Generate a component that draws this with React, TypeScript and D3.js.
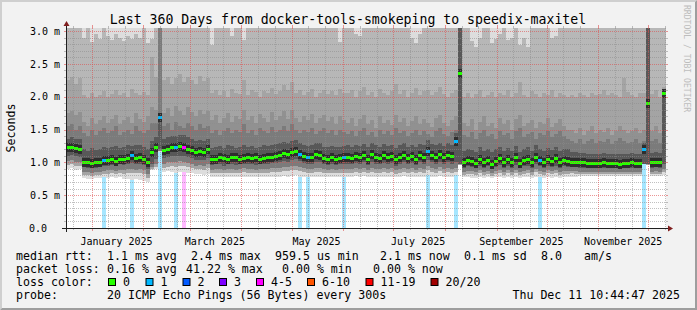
import React from "react";
import * as d3 from "d3";

const W = 697, H = 310;
const X0 = 66, X1 = 666, Y0 = 228, Y1 = 28;
const DAY = 86400000;
const START = Date.UTC(2024, 11, 16, 16, 48);
const SPAN_DAYS = 360;
const BIN_DAYS = 2.4;
const Y_TOP = (3.0 * 200) / 197;
const FONT = "'DejaVu Sans Mono', monospace";

const TITLE = "Last 360 Days from docker-tools-smokeping to speedix-maxitel";

// median RTT per bin (ms)
const median = [
  1.22, 1.23, 1.21, 1.20, 1.00, 0.99, 0.98, 0.99, 1.00, 1.03,
  1.03, 1.04, 1.02, 1.05, 1.04, 1.06, 1.10, 1.06, 1.07, 1.05,
  1.00, 1.15, 1.22, 1.69, 1.18, 1.20, 1.22, 1.22, 1.24, 1.23,
  1.20, 1.18, 1.15, 1.16, 1.15, 1.19, 1.04, 1.05, 1.07, 1.06,
  1.04, 1.08, 1.07, 1.05, 1.06, 1.08, 1.06, 1.07, 1.05, 1.06,
  1.08, 1.07, 1.09, 1.11, 1.13, 1.12, 1.15, 1.17, 1.12, 1.09,
  1.07, 1.08, 1.12, 1.11, 1.06, 1.05, 1.07, 1.05, 1.06, 1.07,
  1.08, 1.06, 1.09, 1.07, 1.10, 1.05, 1.12, 1.08, 1.06, 1.10,
  1.07, 1.09, 1.04, 1.08, 1.11, 1.06, 1.09, 1.05, 1.10, 1.08,
  1.17, 1.10, 1.08, 1.12, 1.07, 1.11, 1.09, 1.32, 2.36, 0.99,
  1.03, 1.01, 0.98, 1.05, 1.00, 1.03, 0.97, 1.02, 1.06, 0.99,
  1.04, 1.00, 1.07, 0.98, 1.03, 1.05, 1.00, 1.08, 1.03, 0.99,
  1.04, 1.01, 1.06, 1.00, 1.03, 1.02, 1.00, 1.00, 0.99, 0.99,
  0.98, 0.98, 0.98, 0.98, 0.99, 0.98, 0.98, 0.98, 0.97, 0.98,
  0.98, 0.99, 0.98, 0.98, 1.20, 1.90, 0.99, 1.00, 0.99, 2.05,
];

// upper smoke boundaries (ms)
const p18 = [
  3.2, 3.2, 3.2, 3.2, 2.9, 3.2, 2.84, 2.95, 2.88, 3.2,
  2.92, 2.87, 2.95, 2.9, 2.85, 2.93, 2.88, 2.96, 2.9, 3.2,
  2.82, 2.88, 3.2, 3.2, 3.2, 3.2, 3.2, 3.2, 3.2, 3.2,
  3.2, 3.2, 3.2, 3.2, 3.2, 3.2, 2.79, 3.2, 3.2, 3.2,
  3.2, 2.92, 3.2, 3.2, 2.86, 3.2, 3.2, 3.2, 3.2, 3.2,
  3.2, 3.2, 3.2, 3.2, 3.2, 3.2, 3.2, 3.2, 3.2, 3.2,
  3.2, 3.2, 3.2, 3.2, 3.2, 3.2, 3.2, 3.2, 2.84, 3.2,
  3.2, 3.2, 2.95, 2.92, 3.2, 3.2, 3.2, 3.2, 3.2, 3.2,
  3.2, 3.2, 3.2, 3.2, 3.2, 3.2, 2.9, 2.82, 2.95, 3.2,
  3.2, 3.2, 3.2, 3.2, 3.2, 3.2, 3.2, 3.2, 3.2, 3.2,
  3.2, 2.85, 2.76, 2.9, 3.2, 3.2, 2.82, 2.88, 2.95, 3.2,
  2.86, 2.9, 3.2, 2.78, 2.9, 2.76, 3.2, 3.2, 3.2, 3.2,
  3.2, 2.9, 2.93, 3.2, 3.2, 3.2, 3.2, 3.2, 3.2, 3.2,
  3.2, 3.2, 3.2, 3.2, 3.2, 3.2, 3.2, 3.2, 3.2, 3.2,
  3.2, 3.2, 3.2, 3.2, 3.2, 3.2, 3.2, 3.2, 3.2, 3.2,
];
const p17 = [
  2.25, 2.30, 2.20, 2.28, 2.02, 1.98, 2.05, 2.00, 2.03, 2.08,
  2.00, 2.04, 2.10, 2.02, 2.06, 2.00, 2.12, 2.05, 2.03, 2.07,
  2.02, 2.60, 2.30, 3.20, 2.25, 2.30, 2.20, 2.28, 2.35, 2.22,
  2.30, 2.26, 2.20, 2.32, 2.24, 2.28, 2.05, 2.10, 2.02, 2.08,
  2.00, 2.12, 2.06, 2.04, 2.25, 2.03, 2.10, 2.07, 2.00, 2.09,
  2.05, 2.13, 2.04, 2.08, 2.18, 2.10, 2.22, 2.05, 2.10, 2.02,
  2.07, 2.12, 2.00, 2.06, 2.10, 2.04, 2.08, 2.02, 2.11, 2.06,
  2.05, 2.10, 2.00, 2.08, 2.14, 2.03, 2.07, 2.00, 2.12, 2.05,
  2.02, 2.09, 2.20, 2.04, 2.10, 2.00, 2.06, 2.13, 2.03, 2.08,
  2.10, 2.02, 2.07, 2.15, 2.04, 2.00, 2.06, 2.10, 3.20, 2.00,
  2.05, 1.98, 2.04, 2.10, 2.00, 2.03, 2.07, 1.99, 2.05, 2.02,
  2.10, 2.00, 2.06, 2.22, 2.03, 2.00, 2.08, 2.04, 1.99, 2.06,
  2.02, 2.10, 2.00, 2.05, 2.03, 2.00, 2.02, 2.00, 2.05, 2.03,
  2.00, 2.06, 2.02, 2.04, 2.10, 2.03, 2.05, 2.02, 2.00, 2.28,
  2.07, 2.02, 2.00, 2.05, 2.05, 3.20, 2.04, 2.10, 2.00, 2.15,
];
const p16 = [
  1.75, 1.78, 1.72, 1.76, 1.62, 1.55, 1.68, 1.58, 1.65, 1.70,
  1.60, 1.66, 1.72, 1.58, 1.64, 1.69, 1.60, 1.75, 1.66, 1.62,
  1.70, 1.85, 1.80, 3.20, 1.75, 1.82, 1.70, 1.86, 1.78, 1.72,
  1.84, 1.76, 1.70, 1.80, 1.74, 1.78, 1.65, 1.72, 1.60, 1.68,
  1.75, 1.62, 1.70, 1.66, 1.80, 1.64, 1.70, 1.60, 1.73, 1.67,
  1.62, 1.76, 1.65, 1.70, 1.78, 1.66, 1.80, 1.68, 1.62, 1.70,
  1.65, 1.74, 1.60, 1.68, 1.72, 1.63, 1.69, 1.58, 1.70, 1.64,
  1.60, 1.68, 1.55, 1.66, 1.72, 1.58, 1.64, 1.52, 1.70, 1.60,
  1.65, 1.57, 1.72, 1.62, 1.67, 1.55, 1.63, 1.70, 1.58, 1.66,
  1.60, 1.54, 1.68, 1.72, 1.60, 1.56, 1.64, 1.70, 3.20, 1.60,
  1.55, 1.66, 1.50, 1.62, 1.70, 1.56, 1.60, 1.52, 1.68, 1.58,
  1.64, 1.50, 1.66, 1.72, 1.55, 1.60, 1.65, 1.52, 1.62, 1.58,
  1.68, 1.54, 1.60, 1.66, 1.56, 1.50, 1.50, 1.45, 1.52, 1.42,
  1.48, 1.55, 1.44, 1.50, 1.46, 1.52, 1.42, 1.48, 1.56, 1.50,
  1.44, 1.47, 1.52, 1.45, 1.50, 3.20, 1.48, 1.55, 1.45, 2.12,
];
const p15 = [
  1.55, 1.58, 1.50, 1.56, 1.45, 1.40, 1.50, 1.42, 1.48, 1.52,
  1.44, 1.47, 1.55, 1.42, 1.46, 1.50, 1.43, 1.56, 1.48, 1.45,
  1.50, 1.60, 1.60, 3.20, 1.55, 1.60, 1.50, 1.62, 1.56, 1.52,
  1.60, 1.55, 1.50, 1.58, 1.53, 1.56, 1.45, 1.50, 1.42, 1.48,
  1.53, 1.44, 1.50, 1.46, 1.58, 1.45, 1.50, 1.42, 1.52, 1.47,
  1.44, 1.54, 1.46, 1.50, 1.56, 1.48, 1.58, 1.50, 1.45, 1.50,
  1.46, 1.53, 1.43, 1.48, 1.52, 1.45, 1.50, 1.42, 1.50, 1.46,
  1.43, 1.48, 1.40, 1.47, 1.52, 1.42, 1.46, 1.38, 1.50, 1.43,
  1.47, 1.41, 1.52, 1.44, 1.48, 1.40, 1.45, 1.50, 1.42, 1.47,
  1.43, 1.39, 1.48, 1.52, 1.43, 1.40, 1.46, 1.50, 3.20, 1.42,
  1.38, 1.46, 1.35, 1.44, 1.50, 1.40, 1.43, 1.36, 1.48, 1.41,
  1.45, 1.35, 1.47, 1.52, 1.39, 1.43, 1.46, 1.36, 1.44, 1.41,
  1.48, 1.38, 1.43, 1.47, 1.40, 1.35, 1.33, 1.30, 1.35, 1.28,
  1.32, 1.36, 1.30, 1.33, 1.31, 1.35, 1.28, 1.32, 1.37, 1.33,
  1.29, 1.31, 1.35, 1.30, 1.33, 3.20, 1.32, 1.36, 1.30, 2.11,
];
const p13 = [
  1.36, 1.38, 1.35, 1.36, 1.20, 1.18, 1.22, 1.19, 1.21, 1.24,
  1.22, 1.23, 1.25, 1.22, 1.24, 1.26, 1.25, 1.26, 1.27, 1.24,
  1.20, 1.32, 1.38, 1.75, 1.36, 1.38, 1.40, 1.40, 1.42, 1.41,
  1.38, 1.36, 1.33, 1.34, 1.33, 1.36, 1.22, 1.23, 1.25, 1.22,
  1.26, 1.25, 1.22, 1.24, 1.26, 1.23, 1.25, 1.22, 1.24, 1.26,
  1.25, 1.27, 1.28, 1.29, 1.31, 1.30, 1.32, 1.34, 1.30, 1.27,
  1.25, 1.26, 1.30, 1.29, 1.24, 1.23, 1.25, 1.23, 1.24, 1.25,
  1.26, 1.24, 1.27, 1.25, 1.28, 1.23, 1.29, 1.26, 1.24, 1.28,
  1.25, 1.27, 1.22, 1.26, 1.29, 1.24, 1.27, 1.23, 1.28, 1.26,
  1.34, 1.28, 1.26, 1.30, 1.25, 1.29, 1.27, 1.45, 3.20, 1.17,
  1.21, 1.19, 1.16, 1.23, 1.18, 1.21, 1.15, 1.20, 1.24, 1.17,
  1.22, 1.18, 1.25, 1.16, 1.21, 1.23, 1.18, 1.26, 1.21, 1.17,
  1.22, 1.19, 1.24, 1.18, 1.21, 1.20, 1.16, 1.15, 1.14, 1.14,
  1.13, 1.13, 1.13, 1.13, 1.14, 1.13, 1.13, 1.13, 1.12, 1.13,
  1.13, 1.14, 1.13, 1.13, 1.30, 3.20, 1.14, 1.15, 1.14, 2.10,
];

// lower smoke boundaries (ms)
const lo4 = [
  1.10, 1.11, 1.09, 1.08, 0.93, 0.92, 0.91, 0.92, 0.93, 0.95,
  0.95, 0.96, 0.94, 0.97, 0.96, 0.98, 0.99, 0.97, 0.98, 0.96,
  0.90, 0.98, 1.05, 1.20, 1.06, 1.08, 1.10, 1.09, 1.10, 1.10,
  1.08, 1.06, 1.03, 1.04, 1.03, 1.07, 0.96, 0.97, 0.97, 0.95,
  0.98, 0.97, 0.96, 0.97, 0.98, 0.97, 0.97, 0.96, 0.97, 0.98,
  0.97, 0.99, 0.99, 1.00, 1.02, 1.01, 1.03, 1.05, 1.02, 0.99,
  0.98, 0.98, 1.01, 1.00, 0.97, 0.96, 0.97, 0.96, 0.97, 0.97,
  0.98, 0.97, 0.99, 0.97, 1.00, 0.96, 1.00, 0.98, 0.97, 0.99,
  0.97, 0.99, 0.95, 0.98, 1.00, 0.97, 0.99, 0.96, 1.00, 0.98,
  1.04, 1.00, 0.98, 1.01, 0.97, 1.00, 0.98, 1.00, 0.97, 0.92,
  0.94, 0.93, 0.91, 0.95, 0.92, 0.94, 0.90, 0.93, 0.96, 0.92,
  0.95, 0.92, 0.96, 0.91, 0.94, 0.95, 0.92, 0.97, 0.94, 0.92,
  0.95, 0.93, 0.95, 0.92, 0.94, 0.93, 0.93, 0.93, 0.92, 0.92,
  0.92, 0.92, 0.91, 0.92, 0.92, 0.91, 0.92, 0.92, 0.91, 0.92,
  0.92, 0.92, 0.91, 0.92, 0.98, 0.97, 0.92, 0.93, 0.92, 0.97,
];
const lo3 = [
  1.02, 1.03, 1.00, 1.00, 0.86, 0.85, 0.84, 0.85, 0.86, 0.87,
  0.88, 0.88, 0.87, 0.89, 0.88, 0.90, 0.90, 0.89, 0.90, 0.88,
  0.82, 0.93, 0.98, 1.18, 0.98, 1.00, 1.01, 1.00, 1.02, 1.01,
  0.99, 0.97, 0.95, 0.96, 0.95, 0.98, 0.89, 0.90, 0.90, 0.88,
  0.90, 0.90, 0.89, 0.90, 0.91, 0.90, 0.90, 0.89, 0.90, 0.90,
  0.90, 0.91, 0.91, 0.92, 0.93, 0.93, 0.94, 0.95, 0.93, 0.91,
  0.90, 0.90, 0.92, 0.92, 0.90, 0.89, 0.90, 0.89, 0.90, 0.90,
  0.90, 0.90, 0.91, 0.90, 0.92, 0.89, 0.92, 0.90, 0.90, 0.91,
  0.90, 0.91, 0.88, 0.90, 0.92, 0.90, 0.91, 0.89, 0.92, 0.90,
  0.95, 0.92, 0.90, 0.93, 0.90, 0.92, 0.90, 0.92, 0.97, 0.86,
  0.87, 0.87, 0.85, 0.88, 0.86, 0.87, 0.84, 0.87, 0.89, 0.86,
  0.88, 0.86, 0.89, 0.85, 0.87, 0.88, 0.86, 0.90, 0.87, 0.86,
  0.88, 0.87, 0.88, 0.86, 0.87, 0.87, 0.87, 0.87, 0.86, 0.86,
  0.86, 0.86, 0.86, 0.86, 0.86, 0.86, 0.86, 0.86, 0.86, 0.86,
  0.86, 0.86, 0.86, 0.86, 0.98, 0.97, 0.86, 0.87, 0.86, 0.90,
];
const lo2 = [
  0.96, 0.97, 0.95, 0.95, 0.80, 0.80, 0.79, 0.80, 0.81, 0.82,
  0.82, 0.83, 0.82, 0.83, 0.82, 0.84, 0.84, 0.83, 0.84, 0.82,
  0.76, 0.90, 0.93, 1.17, 0.92, 0.93, 0.94, 0.93, 0.95, 0.94,
  0.93, 0.91, 0.90, 0.90, 0.89, 0.91, 0.83, 0.84, 0.84, 0.83,
  0.84, 0.84, 0.83, 0.84, 0.85, 0.84, 0.84, 0.83, 0.84, 0.84,
  0.84, 0.85, 0.85, 0.86, 0.87, 0.87, 0.88, 0.88, 0.87, 0.85,
  0.84, 0.84, 0.86, 0.86, 0.84, 0.83, 0.84, 0.83, 0.84, 0.84,
  0.84, 0.84, 0.85, 0.84, 0.86, 0.83, 0.86, 0.84, 0.84, 0.85,
  0.84, 0.85, 0.82, 0.84, 0.86, 0.84, 0.85, 0.83, 0.86, 0.84,
  0.88, 0.86, 0.84, 0.87, 0.84, 0.86, 0.84, 0.86, 0.965, 0.81,
  0.82, 0.82, 0.80, 0.83, 0.81, 0.82, 0.79, 0.82, 0.84, 0.81,
  0.83, 0.81, 0.84, 0.80, 0.82, 0.83, 0.81, 0.85, 0.82, 0.81,
  0.83, 0.82, 0.83, 0.81, 0.82, 0.82, 0.83, 0.82, 0.82, 0.82,
  0.82, 0.82, 0.82, 0.82, 0.82, 0.82, 0.82, 0.82, 0.82, 0.82,
  0.82, 0.82, 0.82, 0.82, 0.975, 0.965, 0.82, 0.82, 0.82, 0.85,
];
const lo1 = [
  0.90, 0.91, 0.89, 0.90, 0.76, 0.75, 0.75, 0.76, 0.76, 0.77,
  0.76, 0.77, 0.76, 0.77, 0.75, 0.74, 0.73, 0.74, 0.73, 0.72,
  0.70, 0.88, 0.90, 1.16, 0.86, 0.87, 0.85, 0.84, 0.85, 0.86,
  0.84, 0.83, 0.82, 0.82, 0.81, 0.82, 0.78, 0.78, 0.77, 0.78,
  0.78, 0.77, 0.78, 0.78, 0.77, 0.78, 0.78, 0.77, 0.78, 0.78,
  0.77, 0.78, 0.78, 0.78, 0.79, 0.78, 0.79, 0.80, 0.78, 0.78,
  0.78, 0.77, 0.78, 0.78, 0.77, 0.78, 0.78, 0.77, 0.78, 0.78,
  0.78, 0.78, 0.79, 0.78, 0.79, 0.78, 0.78, 0.78, 0.77, 0.78,
  0.78, 0.78, 0.77, 0.78, 0.79, 0.78, 0.78, 0.77, 0.78, 0.78,
  0.80, 0.78, 0.78, 0.79, 0.78, 0.78, 0.78, 0.80, 0.96, 0.77,
  0.77, 0.76, 0.76, 0.77, 0.76, 0.77, 0.76, 0.77, 0.77, 0.76,
  0.77, 0.76, 0.77, 0.76, 0.77, 0.77, 0.76, 0.77, 0.77, 0.76,
  0.77, 0.76, 0.77, 0.76, 0.77, 0.77, 0.78, 0.78, 0.79, 0.79,
  0.79, 0.79, 0.79, 0.79, 0.79, 0.79, 0.79, 0.79, 0.79, 0.79,
  0.79, 0.79, 0.79, 0.79, 0.97, 0.96, 0.79, 0.79, 0.79, 0.80,
];

// bins with lost pings
const lossBin = [9, 16, 23, 27, 29, 58, 60, 69, 90, 97, 118, 144];
const lossCount = [1, 1, 1, 1, 5, 1, 1, 1, 1, 1, 1, 1];

const lossLimits = [0, 1, 2, 3, 5, 10, 19, 20];
const lossColors = ["#26ff00", "#00b8ff", "#0059ff", "#7e00ff", "#ff00ff", "#ff5500", "#ff0000", "#a10000"];
const lossLabels = ["0", "1", "2", "3", "4-5", "6-10", "11-19", "20/20"];

const yTicks = [0, 0.5, 1.0, 1.5, 2.0, 2.5, 3.0];
const monthLabelMonths = [0, 2, 4, 6, 8, 10];

const smokeColors = ["#dddddd", "#b7b7b7", "#a4a4a4", "#919191", "#7b7b7b", "#585858"];
const MEDIAN_HALO = "#2e2e2e";

const legendRtt = [
  ["median rtt:", 16], ["1.1 ms avg", 107], ["2.4 ms max", 191], ["959.5 us min", 275],
  ["2.1 ms now", 380], ["0.1 ms sd", 464], ["8.0", 541], ["am/s", 584],
] as [string, number][];
const legendLoss = [
  ["packet loss:", 16], ["0.16 % avg", 107], ["41.22 % max", 186], ["0.00 % min", 282], ["0.00 % now", 373],
] as [string, number][];
const lossBoxX = [108, 145.5, 182.5, 219, 256, 307, 365.5, 430.5];

function lossColor(n: number) {
  for (let i = 0; i < lossLimits.length; i++) if (n <= lossLimits[i]) return lossColors[i];
  return lossColors[lossColors.length - 1];
}

export default function App() {
  const N = median.length;
  const END = START + SPAN_DAYS * DAY;
  const x = d3.scaleUtc().domain([new Date(START), new Date(END)]).range([X0, X1]);
  const y = d3.scaleLinear().domain([0, Y_TOP]).range([Y0, Y1]);
  const tAt = (i: number) => new Date(START + i * BIN_DAYS * DAY);
  const idx = d3.range(N + 1);
  const v = (a: number[], i: number) => a[Math.min(i, N - 1)];

  const bands: { lo: number[]; hi: number[] | null; c: string }[] = [
    { lo: lo1, hi: null, c: smokeColors[0] },
    { lo: lo2, hi: p18, c: smokeColors[1] },
    { lo: lo2, hi: p17, c: smokeColors[2] },
    { lo: lo3, hi: p16, c: smokeColors[3] },
    { lo: lo3, hi: p15, c: smokeColors[4] },
    { lo: lo4, hi: p13, c: smokeColors[5] },
  ];
  const areaFor = (lo: number[], hi: number[] | null) =>
    d3
      .area<number>()
      .x((i) => x(tAt(i)))
      .y0((i) => y(v(lo, i)))
      .y1((i) => (hi ? y(v(hi, i)) : Y1 - 10))
      .curve(d3.curveStepAfter)(idx) as string;

  // grids
  const hMinor: number[] = [];
  const hMajor: number[] = [];
  d3.range(1, 31).forEach((k) => (k % 5 === 0 ? hMajor : hMinor).push(k / 10));
  const vMinor: Date[] = [];
  const vMajor: Date[] = [];
  d3.utcMonth.range(new Date(START - 40 * DAY), new Date(END)).forEach((m) => {
    [1, 11, 21].forEach((d) => {
      const t = new Date(Date.UTC(m.getUTCFullYear(), m.getUTCMonth(), d));
      if (+t > START && +t < END) (d === 1 ? vMajor : vMinor).push(t);
    });
  });
  const GRID = "rgba(140,140,140,0.55)";
  const MGRID = "rgba(222,79,79,0.6)";
  const fmtMonth = d3.utcFormat("%B %Y");

  const yLabel = (t: number) => (t === 0 ? "0.0" : `${t.toFixed(1)} m`);

  return (
    <div style={{ position: "absolute", left: 0, top: 0 }}>
      <svg width={W} height={H} style={{ display: "block" }} fontFamily={FONT}>
        <defs>
          <clipPath id="plot">
            <rect x={X0} y={Y1} width={X1 - X0} height={Y0 - Y1} />
          </clipPath>
        </defs>
        <rect x={0} y={0} width={W} height={H} fill="#f2f2f2" />
        <polygon points={`0,0 ${W},0 ${W - 2},2 2,2 2,${H - 2} 0,${H}`} fill="#cfcfcf" />
        <polygon points={`${W},0 ${W},${H} 0,${H} 2,${H - 2} ${W - 2},${H - 2} ${W - 2},2`} fill="#9e9e9e" />
        <rect x={X0} y={Y1} width={X1 - X0} height={Y0 - Y1} fill="#ffffff" />

        <g clipPath="url(#plot)">
          {lossBin.map((b, k) => (
            <rect
              key={"lb" + k}
              x={x(tAt(b))}
              y={Y1}
              width={x(tAt(b + 1)) - x(tAt(b))}
              height={Y0 - Y1}
              fill={lossColor(lossCount[k])}
              fillOpacity={lossCount[k] > 1 ? 0.28 : 0.35}
            />
          ))}
          {bands.map((b, k) => (
            <path key={"band" + k} d={areaFor(b.lo, b.hi)} fill={b.c} shapeRendering="crispEdges" />
          ))}
          {median.map((m, i) => (
            <rect
              key={"h" + i}
              x={x(tAt(i))}
              y={y(m) - 4.5}
              width={x(tAt(i + 1)) - x(tAt(i))}
              height={9}
              fill={MEDIAN_HALO}
              shapeRendering="crispEdges"
            />
          ))}
          {median.map((m, i) => {
            const li = lossBin.indexOf(i);
            const c = lossColor(li >= 0 ? lossCount[li] : 0);
            return (
              <rect
                key={"m" + i}
                x={x(tAt(i))}
                y={y(m) - 1.5}
                width={x(tAt(i + 1)) - x(tAt(i))}
                height={3}
                fill={c}
                shapeRendering="crispEdges"
              />
            );
          })}
        </g>

        {/* grid */}
        <g strokeWidth={1}>
          {hMinor.map((t) => (
            <g key={"hm" + t}>
              <line x1={X0} x2={X1} y1={Math.round(y(t)) + 0.5} y2={Math.round(y(t)) + 0.5} stroke={GRID} strokeDasharray="1,1" />
              <line x1={X0 - 2} x2={X0} y1={Math.round(y(t)) + 0.5} y2={Math.round(y(t)) + 0.5} stroke={GRID} />
              <line x1={X1} x2={X1 + 2} y1={Math.round(y(t)) + 0.5} y2={Math.round(y(t)) + 0.5} stroke={GRID} />
            </g>
          ))}
          {vMinor.map((t) => {
            const px = Math.round(x(t)) + 0.5;
            return (
              <g key={"vm" + +t}>
                <line x1={px} x2={px} y1={Y1} y2={Y0} stroke={GRID} strokeDasharray="1,1" />
                <line x1={px} x2={px} y1={Y0} y2={Y0 + 2} stroke={GRID} />
                <line x1={px} x2={px} y1={Y1 - 2} y2={Y1} stroke={GRID} />
              </g>
            );
          })}
          {hMajor.map((t) => (
            <g key={"hM" + t}>
              <line x1={X0} x2={X1} y1={Math.round(y(t)) + 0.5} y2={Math.round(y(t)) + 0.5} stroke={MGRID} strokeDasharray="1,1" />
              <line x1={X0 - 2} x2={X0} y1={Math.round(y(t)) + 0.5} y2={Math.round(y(t)) + 0.5} stroke={MGRID} />
              <line x1={X1} x2={X1 + 2} y1={Math.round(y(t)) + 0.5} y2={Math.round(y(t)) + 0.5} stroke={MGRID} />
            </g>
          ))}
          {vMajor.map((t) => {
            const px = Math.round(x(t)) + 0.5;
            return (
              <g key={"vM" + +t}>
                <line x1={px} x2={px} y1={Y1} y2={Y0} stroke={MGRID} strokeDasharray="1,1" />
                <line x1={px} x2={px} y1={Y0} y2={Y0 + 3} stroke={MGRID} />
                <line x1={px} x2={px} y1={Y1 - 3} y2={Y1} stroke={MGRID} />
              </g>
            );
          })}
        </g>

        {/* axes */}
        <line x1={X0 - 4} x2={X1 + 4} y1={Y0 + 0.5} y2={Y0 + 0.5} stroke="#1f1f1f" strokeWidth={1} />
        <line x1={X0 + 0.5} x2={X0 + 0.5} y1={Y0 + 4} y2={Y1 - 4} stroke="#1f1f1f" strokeWidth={1} />
        <polygon points={`${X1 + 2},${Y0 - 2.5} ${X1 + 7},${Y0 + 0.5} ${X1 + 2},${Y0 + 3.5}`} fill="#801f1f" />
        <polygon points={`${X0 - 2.5},${Y1 - 2} ${X0 + 0.5},${Y1 - 7} ${X0 + 3.5},${Y1 - 2}`} fill="#801f1f" />

        {/* y labels */}
        {yTicks.map((t) => (
          <text key={"yl" + t} x={t === 0 ? 47 : 60} y={y(t) + 3.7} fontSize={10} textAnchor="end" fill="#000">
            {yLabel(t)}
          </text>
        ))}
        {/* x labels */}
        {monthLabelMonths.map((m) => {
          const t = new Date(Date.UTC(2025, m, 1) + 15 * DAY);
          return (
            <text key={"xl" + m} x={x(t)} y={245} fontSize={10} textAnchor="middle" fill="#000">
              {fmtMonth(new Date(Date.UTC(2025, m, 1)))}
            </text>
          );
        })}

        {/* title */}
        <text x={348} y={23.5} fontSize={13.2} textAnchor="middle" fill="#000">
          {TITLE}
        </text>
        <text transform="translate(14.5,128) rotate(-90)" fontSize={11.6} textAnchor="middle" fill="#000">
          Seconds
        </text>
        <text transform="translate(684,5) rotate(90)" fontSize={8.1} fill="#bdbdbd">
          RRDTOOL / TOBI OETIKER
        </text>

        {/* legend */}
        <g fontSize={11.6} fill="#000">
          {legendRtt.map(([s, px]) => (
            <text key={"r" + s} x={px} y={259.5} style={{ whiteSpace: "pre" }}>
              {s}
            </text>
          ))}
          {legendLoss.map(([s, px]) => (
            <text key={"l" + s} x={px} y={272.8} style={{ whiteSpace: "pre" }}>
              {s}
            </text>
          ))}
          <text x={16} y={286.1}>loss color:</text>
          {lossLabels.map((lab, i) => (
            <g key={"lc" + i}>
              <rect x={lossBoxX[i] + 0.5} y={278.5} width={7} height={7} fill={lossColors[i]} stroke="#000" strokeWidth={1} />
              <text x={lossBoxX[i] + 15} y={286.1}>
                {lab}
              </text>
            </g>
          ))}
          <text x={16} y={299.4}>probe:</text>
          <text x={107} y={299.4} style={{ whiteSpace: "pre" }}>
            20 ICMP Echo Pings (56 Bytes) every 300s
          </text>
          <text x={680} y={299.4} textAnchor="end">
            Thu Dec 11 10:44:47 2025
          </text>
        </g>
      </svg>
    </div>
  );
}
